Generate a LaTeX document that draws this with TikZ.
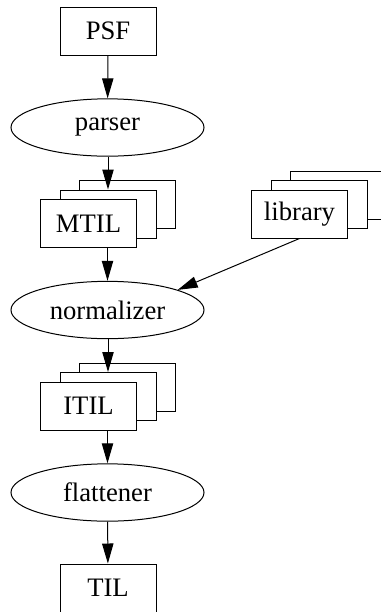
\documentclass[tikz,border=0pt]{standalone}
\usepackage{fontspec}
\setmainfont{Liberation Serif}
\usetikzlibrary{shapes.geometric,arrows.meta}
\begin{document}
\begin{tikzpicture}[x=0.75pt,y=-0.75pt,
  every node/.style={font=\fontsize{20}{24}\selectfont, inner sep=0pt, line width=0.75pt},
  boxn/.style={draw, fill=white, minimum width=72pt, minimum height=36pt},
  ell/.style={draw, ellipse, minimum width=144.75pt, minimum height=43pt},
  arr/.style={line width=0.75pt, -{Triangle[length=15pt,width=8.5pt]}}]
\useasboundingbox (0,0) rectangle (380,612);
\node[boxn] (psf) at (108,31) {PSF};
\node[ell] (parser) at (107.5,127.5) {parser};
\node[boxn] (mtil3) at (127,204.5) {};
\node[boxn] (mtil2) at (108,214) {};
\node[boxn] (mtil) at (88.5,223.5) {MTIL};
\node[boxn] (lib3) at (338,195) {};
\node[boxn] (lib2) at (319,204.5) {};
\node[boxn] (lib) at (299.5,214) {library};
\node[ell] (norm) at (107.5,310) {normalizer};
\node[boxn] (itil3) at (127,387) {};
\node[boxn] (itil2) at (108,396.5) {};
\node[boxn] (itil) at (88.5,406) {ITIL};
\node[ell] (flat) at (107.5,492.5) {flattener};
\node[boxn] (til) at (108,588) {TIL};
\draw[arr] (psf) -- (parser);
\draw[arr] (parser.south -| mtil2) -- (mtil2.north);
\draw[arr] (mtil.south -| norm) -- (norm.north);
\draw[arr] (lib.south) -- (norm.16);
\draw[arr] (norm.south -| itil2) -- (itil2.north);
\draw[arr] (itil.south -| flat) -- (flat.north);
\draw[arr] (flat) -- (til);
\end{tikzpicture}
\end{document}
